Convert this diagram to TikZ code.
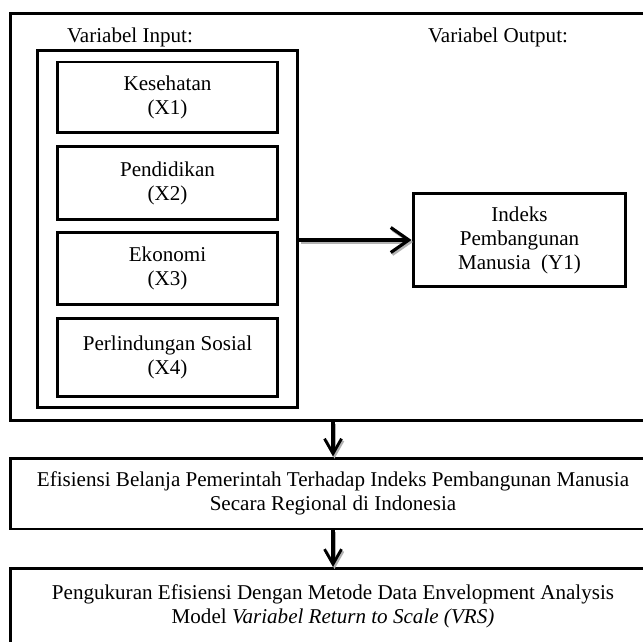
\documentclass[tikz,border=0pt]{standalone}
\usepackage{fontspec}
\setmainfont{Liberation Serif}
\usetikzlibrary{arrows.meta,positioning}

\begin{document}
\begin{tikzpicture}[x=0.02cm,y=-0.02cm]
		\tikzset{
		    frame/.style={rectangle,draw,line width=1.7pt,inner sep=0pt},
		    txt/.style={align=center,inner sep=0pt,font=\fontsize{12}{13.7}\selectfont},
		    vertex/.style={frame,txt},
		    inbox/.style={vertex,minimum width=4.42cm},
		    edge/.style={-{Straight Barb[length=0.36cm,width=0.5cm,line width=1.8pt]},line width=2pt},
		    down/.style={-{Straight Barb[length=0.3cm,width=0.34cm,line width=1.6pt]},line width=1.8pt},
		    shadow/.style={gray!60,transform canvas={xshift=0.03cm,yshift=-0.04cm}}
		}
		\useasboundingbox (0,0) rectangle (643,642);
		\clip (0,0) rectangle (643,642);

		% vertices
		\node[frame,minimum width=12.92cm,minimum height=8.16cm] (frame) at (333,217) {};
		\node[txt] (inlabel) at (130,37) {Variabel Input:};
		\node[txt] (outlabel) at (498,37) {Variabel Output:};
		\node[frame,minimum width=5.22cm,minimum height=7.16cm] (input) at (167.5,229) {};

		\node[inbox,minimum height=1.42cm] (x1) at (167.5,97.5) {Kesehatan\\(X1)};
		\node[inbox,minimum height=1.48cm] (x2) at (167.5,183) {Pendidikan\\(X2)};
		\node[inbox,minimum height=1.46cm] (x3) at (167.5,268.5) {Ekonomi\\(X3)};
		\node[inbox,minimum height=1.58cm] (x4) at (167.5,357.5) {Perlindungan Sosial\\(X4)};

		\node[vertex,minimum width=4.26cm,minimum height=1.88cm] (ipm) at (519.5,240) {Indeks\\Pembangunan\\Manusia\ \ (Y1)};

		\node[vertex,minimum width=12.92cm,minimum height=1.42cm] (effic) at (333,493.5) {Efisiensi Belanja Pemerintah Terhadap Indeks Pembangunan Manusia\\Secara Regional di Indonesia};
		\node[frame,minimum width=12.92cm,minimum height=2.4cm,anchor=north] (dea) at (333,567) {};
		\node[txt,below=0.34cm of dea.north] (deatext) {Pengukuran Efisiensi Dengan Metode Data Envelopment Analysis\\Model \textit{Variabel Return to Scale (VRS)}};

		%edges
		\draw[edge,shadow] (ipm.west -| input.east) -- (ipm.west);
		\draw[edge] (ipm.west -| input.east) -- (ipm.west);
		\draw[down,shadow] (frame.south) -- (effic.north);
		\draw[down] (frame.south) -- (effic.north);
		\draw[down,shadow] (effic.south) -- (dea.north);
		\draw[down] (effic.south) -- (dea.north);

	\end{tikzpicture}
\end{document}
